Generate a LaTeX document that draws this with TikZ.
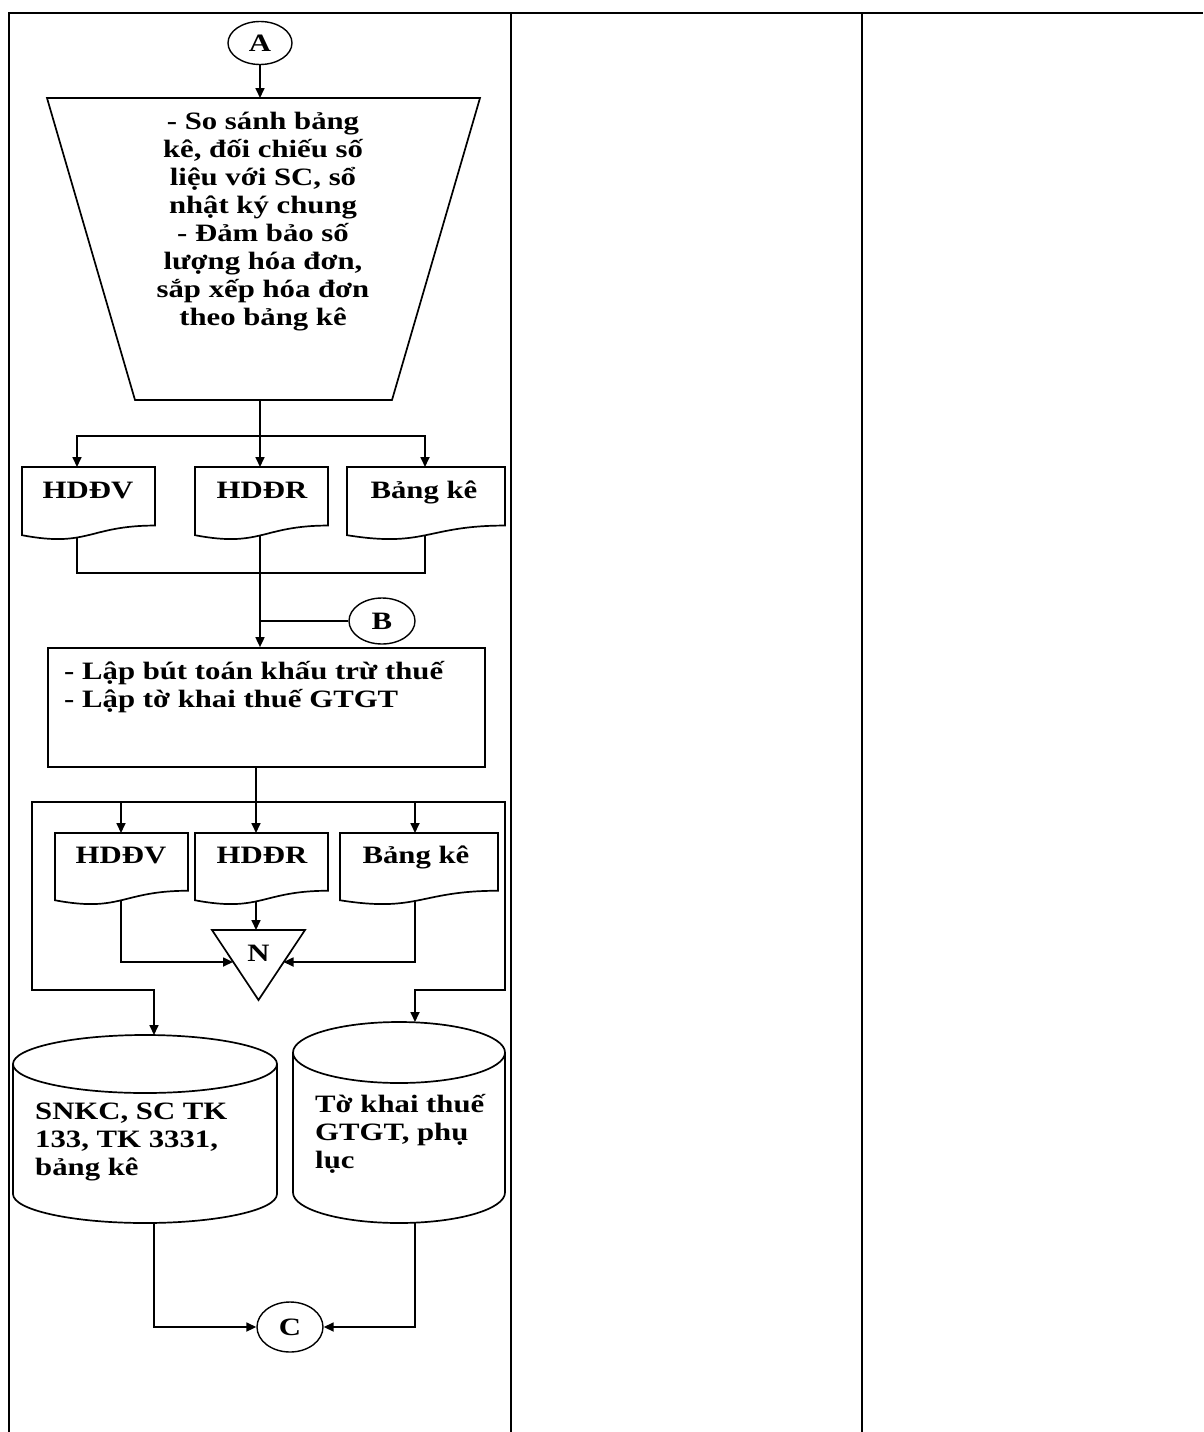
\documentclass[tikz,border=0pt]{standalone}
\usepackage{fontspec}
\setmainfont{Liberation Serif}[FakeStretch=1.23]
\usetikzlibrary{arrows.meta,shapes.geometric}

% document symbol with a wavy lower edge: left, right, top, height
\newcommand\docoutline[4]{%
  \draw[outl] (#1,#3) -- (#2,#3) -- (#2,{#3+0.802*#4})
    .. controls ({(#1+#2)/2},{#3+0.802*#4}) and ({(#1+#2)/2},{#3+1.1075*#4})
    .. (#1,{#3+0.934*#4}) -- cycle;}

% storage cylinder: centre x, x radius, top centre y, bottom centre y, y radius
\newcommand\cyloutline[5]{%
  \draw[outl] (#1,#3) ellipse [x radius=#2, y radius=#5];
  \draw[outl] ({#1-#2},#3) -- ({#1-#2},#4)
    arc [start angle=180, end angle=0, x radius=#2, y radius=#5] -- ({#1+#2},#3);}

\tikzset{
  outl/.style={line width=1.7pt, line join=miter},
  ln/.style={line width=1.7pt},
  arr/.style={ln, -{Triangle[length=10pt,width=9pt]}},
  tbl/.style={line width=2.4pt},
  txt/.style={font=\bfseries\fontsize{25}{28}\selectfont, inner sep=0pt},
  conn/.style={ellipse, draw, line width=1.4pt, inner sep=0pt,
    font=\bfseries\fontsize{25}{28}\selectfont},
}

\begin{document}
\begin{tikzpicture}[x=1pt, y=-1pt]
\useasboundingbox (0,0) rectangle (1203,1432);

% table frame
\draw[tbl] (9,1432) -- (9,13) -- (1203,13);
\draw[tbl] (511,13) -- (511,1432);
\draw[tbl] (862,13) -- (862,1432);

% connector A and the comparison step
\node[conn, minimum width=64pt, minimum height=43pt] (A) at (260,43) {A};
\draw[outl] (47,98) -- (480,98) -- (392,400) -- (135,400) -- cycle;
\coordinate (trapT) at (260,98);
\coordinate (trapB) at (260,400);
\node[txt, align=center, anchor=base] (trap) at (263,325)
  {- So sánh bảng\\kê, đối chiếu số\\liệu với SC, sổ\\nhật ký chung\\- Đảm bảo số\\lượng hóa đơn,\\sắp xếp hóa đơn\\theo bảng kê};
\draw[arr] (A) -- (trapT);

% first row of documents
\docoutline{22}{155}{467}{73}
\docoutline{195}{328}{467}{73}
\docoutline{347}{505}{467}{73}
\node[txt, anchor=base] (d1) at (88,498) {HDĐV};
\node[txt, anchor=base] (d2) at (262,498) {HDĐR};
\node[txt, anchor=base] (d3) at (424,498) {Bảng kê};
\coordinate (d1t) at (77,467);  \coordinate (d1b) at (77,537.6);
\coordinate (d2t) at (260,467); \coordinate (d2b) at (260,535.4);
\coordinate (d3t) at (425,467); \coordinate (d3b) at (425,535.3);

\coordinate (j1) at (260,436);
\draw[arr] (trapB) -- (d2t);
\draw[arr] (j1) -| (d1t);
\draw[arr] (j1) -| (d3t);

% booking step
\node[draw, outl, rectangle, minimum width=437pt, minimum height=119pt, inner sep=0pt]
  (box) at (266.5,707.5) {};
\node[txt, align=left, anchor=base west] (boxtxt) at (64,707)
  {- Lập bút toán khấu trừ thuế\\- Lập tờ khai thuế GTGT};

\coordinate (j2) at (260,573);
\draw[ln] (d1b) |- (j2) -| (d3b);
\draw[arr] (d2b) -- (d2b |- box.north);

% connector B
\node[conn, minimum width=66pt, minimum height=46pt] (B) at (382,621) {B};
\draw[ln] (B.west) -- (B.west -| d2b);

% second row of documents
\docoutline{55}{188}{833}{72}
\docoutline{195}{328}{833}{72}
\docoutline{340}{498}{833}{72}
\node[txt, anchor=base] (e1) at (121,863) {HDĐV};
\node[txt, anchor=base] (e2) at (262,863) {HDĐR};
\node[txt, anchor=base] (e3) at (416,863) {Bảng kê};
\coordinate (e1t) at (121,833); \coordinate (e1b) at (121,900.2);
\coordinate (e2t) at (256,833); \coordinate (e2b) at (256,901.4);
\coordinate (e3t) at (415,833); \coordinate (e3b) at (415,900.7);

\coordinate (j3) at (256,802);
\draw[arr] (box.south -| e2t) -- (e2t);
\draw[arr] (j3) -| (e1t);
\draw[arr] (j3) -| (e3t);

% file N
\draw[outl] (212,930) -- (305,930) -- (258.5,1000) -- cycle;
\node[txt] (N) at (258.5,953) {N};
\coordinate (triT) at (256,930);
\coordinate (triL) at (233,962);
\coordinate (triR) at (283.5,962);
\draw[arr] (e2b) -- (triT);
\draw[arr] (e1b) |- (triL);
\draw[arr] (e3b) |- (triR);

% storage
\cyloutline{145}{132}{1064}{1194}{29}
\cyloutline{399}{106}{1052.5}{1192.5}{30.5}
\node[txt, align=left, anchor=base west] (c1) at (35,1175)
  {SNKC, SC TK\\133, TK 3331,\\bảng kê};
\node[txt, align=left, anchor=base west] (c2) at (315,1168)
  {Tờ khai thuế\\GTGT, phụ\\lục};
\coordinate (c1t) at (154,1035); \coordinate (c1b) at (154,1223);
\coordinate (c2t) at (415,1022); \coordinate (c2b) at (415,1223);

\coordinate (lpL) at (32,990);
\coordinate (lpR) at (505,990);
\draw[arr] (j3) -| (lpL) -| (c1t);
\draw[arr] (j3) -| (lpR) -| (c2t);

% connector C
\node[conn, minimum width=66pt, minimum height=50pt] (C) at (290,1327) {C};
\draw[arr] (c1b) |- (C.west);
\draw[arr] (c2b) |- (C.east);
\end{tikzpicture}
\end{document}
